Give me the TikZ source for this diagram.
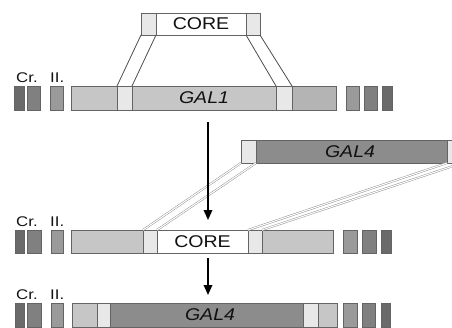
\documentclass[tikz,border=0pt]{standalone}
\usepackage{fontspec}
\setmainfont{Liberation Sans}
\usetikzlibrary{arrows.meta}

\definecolor{edge}{HTML}{646464}
\definecolor{crA}{HTML}{6A6A6A}
\definecolor{crB}{HTML}{808080}
\definecolor{crC}{HTML}{9A9A9A}
\definecolor{flank}{HTML}{C6C6C6}
\definecolor{flankdk}{HTML}{B4B4B4}
\definecolor{hom}{HTML}{E8E8E8}
\definecolor{galfour}{HTML}{8C8C8C}
\definecolor{ink}{HTML}{111111}

\tikzset{
  seg/.style={draw=edge, line width=0.9pt, inner sep=0pt, outer sep=0pt,
    anchor=north west, minimum height=#1},
  seg/.default=24pt,
  biglabel/.style={text=ink, font=\fontsize{17}{17}\selectfont, inner sep=0pt},
  crlabel/.style={text=ink, font=\fontsize{14}{14}\selectfont, inner sep=0pt, anchor=base west},
  arm/.style={draw=black!70, line width=0.8pt},
  dblarm/.style={draw=black!45, line width=0.45pt, double=white, double distance=1.1pt},
  bigarrow/.style={draw=black, line width=1.8pt, -{Triangle[length=10pt,width=8.5pt]}},
}

\newcommand{\wide}[1]{\scalebox{1.15}[1]{#1}}
\newcommand{\crw}[1]{\scalebox{1.2}[1]{#1}}

\begin{document}
\begin{tikzpicture}[x=1pt, y=-1pt]
\useasboundingbox (0,0) rectangle (452,327);
\clip (0,0) rectangle (452,327);

% ---- CORE cassette ----
\node[seg=22pt, fill=hom, minimum width=15pt] (chL) at (141,13) {};
\node[seg=22pt, fill=white, minimum width=90pt] (core1) at (156,13) {};
\node[seg=22pt, fill=hom, minimum width=14pt] (chR) at (246,13) {};
\node[biglabel] at (core1.center) {\wide{CORE}};

% ---- row 1: GAL1 locus ----
\node[crlabel] (cr1) at (16,82) {\crw{Cr.}};
\node[crlabel] (ii1) at (50,82) {\crw{II.}};
\node[seg, fill=crA, minimum width=10pt] (l1a) at (14,86) {};
\node[seg, fill=crB, minimum width=13pt] (l1b) at (27,86) {};
\node[seg, fill=crC, minimum width=13pt] (l1c) at (50,86) {};
\node[seg, fill=flank, minimum width=46pt] (f1L) at (71,86) {};
\node[seg, fill=hom, minimum width=15pt] (h1L) at (117,86) {};
\node[seg, fill=flank, minimum width=144pt] (gal1) at (132,86) {};
\node[seg, fill=hom, minimum width=16pt] (h1R) at (276,86) {};
\node[seg, fill=flankdk, minimum width=44pt] (f1R) at (292,86) {};
\node[seg, fill=crC, minimum width=13pt] (r1a) at (346,86) {};
\node[seg, fill=crB, minimum width=13pt] (r1b) at (364,86) {};
\node[seg, fill=crA, minimum width=10pt] (r1c) at (382,86) {};
\node[biglabel] at (gal1.center) {\wide{\itshape GAL1}};

% arms of the CORE cassette
\draw[arm] (chL.south west) -- (h1L.north west);
\draw[arm] (chL.south east) -- (h1L.north east);
\draw[arm] (chR.south west) -- (h1R.north west);
\draw[arm] (chR.south east) -- (h1R.north east);

% ---- GAL4 fragment ----
\node[seg=23pt, fill=hom, minimum width=15pt] (ghL) at (241,140) {};
\node[seg=23pt, fill=galfour, minimum width=191pt] (gal4a) at (256,140) {};
\node[seg=23pt, fill=hom, minimum width=15pt] (ghR) at (447,140) {};
\node[biglabel] at (350,152) {\wide{\itshape GAL4}};

% ---- row 2: CORE integrated ----
\node[crlabel] (cr2) at (16,226) {\crw{Cr.}};
\node[crlabel] (ii2) at (50,226) {\crw{II.}};
\node[seg=23pt, fill=crA, minimum width=9pt] (l2a) at (15,230) {};
\node[seg=23pt, fill=crB, minimum width=14pt] (l2b) at (27,230) {};
\node[seg=23pt, fill=crC, minimum width=12pt] (l2c) at (51,230) {};
\node[seg=23pt, fill=flank, minimum width=72pt] (f2L) at (71,230) {};
\node[seg=23pt, fill=hom, minimum width=14pt] (h2L) at (143,230) {};
\node[seg=23pt, fill=white, minimum width=91pt] (core2) at (157,230) {};
\node[seg=23pt, fill=hom, minimum width=14pt] (h2R) at (248,230) {};
\node[seg=23pt, fill=flank, minimum width=71pt] (f2R) at (262,230) {};
\node[seg=23pt, fill=crC, minimum width=14pt] (r2a) at (343,230) {};
\node[seg=23pt, fill=crB, minimum width=14pt] (r2b) at (362,230) {};
\node[seg=23pt, fill=crA, minimum width=10pt] (r2c) at (381,230) {};
\node[biglabel] at (core2.center) {\wide{CORE}};

% arms of the GAL4 fragment
\draw[dblarm] (ghL.south west) -- (h2L.north west);
\draw[dblarm] (ghL.south east) -- (h2L.north east);
\draw[dblarm] (ghR.south west) -- (h2R.north west);
\draw[dblarm] (ghR.south east) -- (h2R.north east);

% ---- row 3: GAL4 integrated ----
\node[crlabel] (cr3) at (16,299) {\crw{Cr.}};
\node[crlabel] (ii3) at (50,299) {\crw{II.}};
\node[seg, fill=crA, minimum width=9pt] (l3a) at (15,303) {};
\node[seg, fill=crB, minimum width=14pt] (l3b) at (27,303) {};
\node[seg, fill=crC, minimum width=12pt] (l3c) at (51,303) {};
\node[seg, fill=flank, minimum width=25pt] (f3L) at (72,303) {};
\node[seg, fill=hom, minimum width=13pt] (h3L) at (97,303) {};
\node[seg, fill=galfour, minimum width=193pt] (gal4b) at (110,303) {};
\node[seg, fill=hom, minimum width=15pt] (h3R) at (303,303) {};
\node[seg, fill=flank, minimum width=19pt] (f3R) at (318,303) {};
\node[seg, fill=crC, minimum width=14pt] (r3a) at (343,303) {};
\node[seg, fill=crB, minimum width=13pt] (r3b) at (362,303) {};
\node[seg, fill=crA, minimum width=9pt] (r3c) at (381,303) {};
\node[biglabel] at (210,315) {\wide{\itshape GAL4}};

% ---- step arrows ----
\coordinate (s1) at (208,122);
\coordinate (e1) at (208,220);
\coordinate (s2) at (208,258);
\coordinate (e2) at (208,295);
\draw[bigarrow] (s1) -- (e1);
\draw[bigarrow] (s2) -- (e2);
\end{tikzpicture}
\end{document}
